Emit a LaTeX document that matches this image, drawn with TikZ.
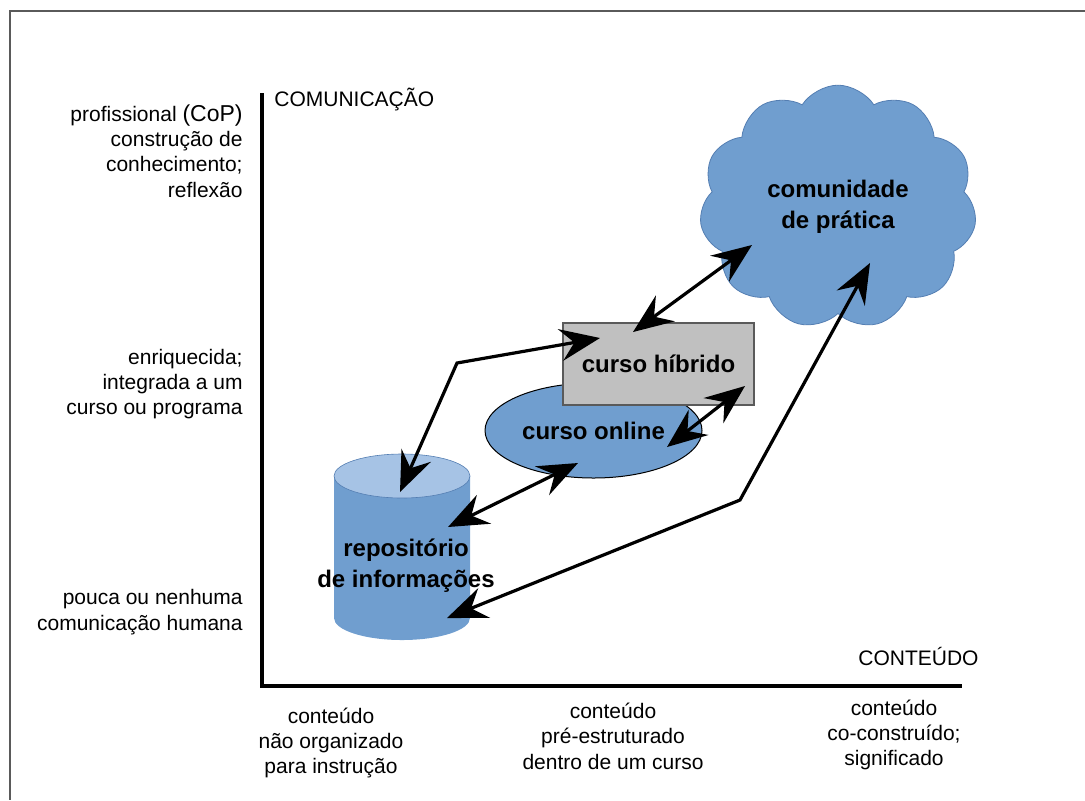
\documentclass[tikz,border=0pt]{standalone}
\usepackage{fontspec}
\setmainfont{Liberation Sans}
\usetikzlibrary{arrows.meta,shapes.geometric,shapes.symbols}
\definecolor{cpblue}{RGB}{112,158,207}
\definecolor{cptop}{RGB}{166,195,229}
\definecolor{cpedge}{RGB}{84,126,178}
\definecolor{boxgray}{RGB}{192,192,192}
\definecolor{framegray}{RGB}{90,90,90}
\tikzset{
  axislbl/.style={font=\fontsize{10.5}{12.7}\selectfont, inner sep=0pt},
  levellbl/.style={axislbl, align=right, anchor=east},
  contlbl/.style={axislbl, align=center},
  boldlbl/.style={font=\bfseries\fontsize{12}{15.5}\selectfont, align=center},
  link/.style={{Stealth[length=20pt,width=16pt,inset=7pt]}-{Stealth[length=20pt,width=16pt,inset=7pt]}, line width=1.6pt},
}
\begin{document}
\begin{tikzpicture}[x=0.5pt,y=-0.5pt]
  \useasboundingbox (0,0) rectangle (1085,800);
  \draw[framegray, line width=0.8pt] (1085,11) -- (10,11) -- (10,800);

  \coordinate (ytop) at (262,93);
  \coordinate (orig) at (262,686);
  \coordinate (xend) at (962,686);
  \draw[line width=2pt] (ytop) -- (orig) -- (xend);

  \node[axislbl, anchor=base west] (com) at (274,106) {COMUNICAÇÃO};
  \node[axislbl, anchor=base west] (cont) at (858,665) {CONTEÚDO};

  \node[levellbl] (lvlhigh) at (243,151) {profissional {\fontsize{11.5}{12.7}\selectfont(CoP)}\\construção de\\conhecimento;\\reflexão};
  \node[levellbl] (lvlmid) at (243,384) {enriquecida;\\integrada a um\\curso ou programa};
  \node[levellbl] (lvllow) at (243,612) {pouca ou nenhuma\\comunicação humana};

  \node[contlbl] (contlow) at (331,743) {conteúdo\\não organizado\\para instrução};
  \node[contlbl] (contmid) at (613,736) {conteúdo\\pré-estruturado\\dentro de um curso};
  \node[contlbl] (conthigh) at (894,735) {conteúdo\\co-construído;\\significado};

  \fill[cpblue] (334,476) -- (334,618) arc[start angle=180, end angle=0, x radius=68, y radius=22] -- (470,476) -- cycle;
  \filldraw[fill=cptop, draw=cpedge, line width=0.3pt] (402,476) ellipse [x radius=68, y radius=22];
  \node[boldlbl] (repo) at (406,566) {repositório\\de informações};

  \node[ellipse, fill=cpblue, draw=black, line width=0.5pt, minimum width=108.5pt, minimum height=47.5pt, inner sep=0pt, boldlbl] (online) at (593.5,430.5) {curso online};
  \node[draw=framegray, line width=0.6pt, fill=boxgray, minimum width=95.5pt, minimum height=41pt, boldlbl] (hibrido) at (658.5,364) {curso híbrido};
  \node[cloud, cloud puffs=11, cloud puff arc=115, fill=cpblue, draw=cpedge, line width=0.4pt, minimum width=138.5pt, minimum height=119.5pt, boldlbl] (cop) at (838,207) {comunidade\\de prática};

  \coordinate (cop-a) at (752,245);
  \coordinate (cop-b) at (870,263);
  \coordinate (hib-a) at (633,332);
  \coordinate (hib-b) at (600,338);
  \coordinate (hib-c) at (745,386);
  \coordinate (onl-a) at (667,447);
  \coordinate (onl-b) at (578,463);
  \coordinate (rep-a) at (400,492);
  \coordinate (rep-b) at (448,527);
  \coordinate (rep-c) at (447,618);
  \coordinate (knee1) at (457,363);
  \coordinate (knee2) at (740,500);

  \draw[link] (hib-a) -- (cop-a);
  \draw[link] (onl-a) -- (hib-c);
  \draw[link] (rep-b) -- (onl-b);
  \draw[link] (rep-a) -- (knee1) -- (hib-b);
  \draw[link] (rep-c) -- (knee2) -- (cop-b);
\end{tikzpicture}
\end{document}
